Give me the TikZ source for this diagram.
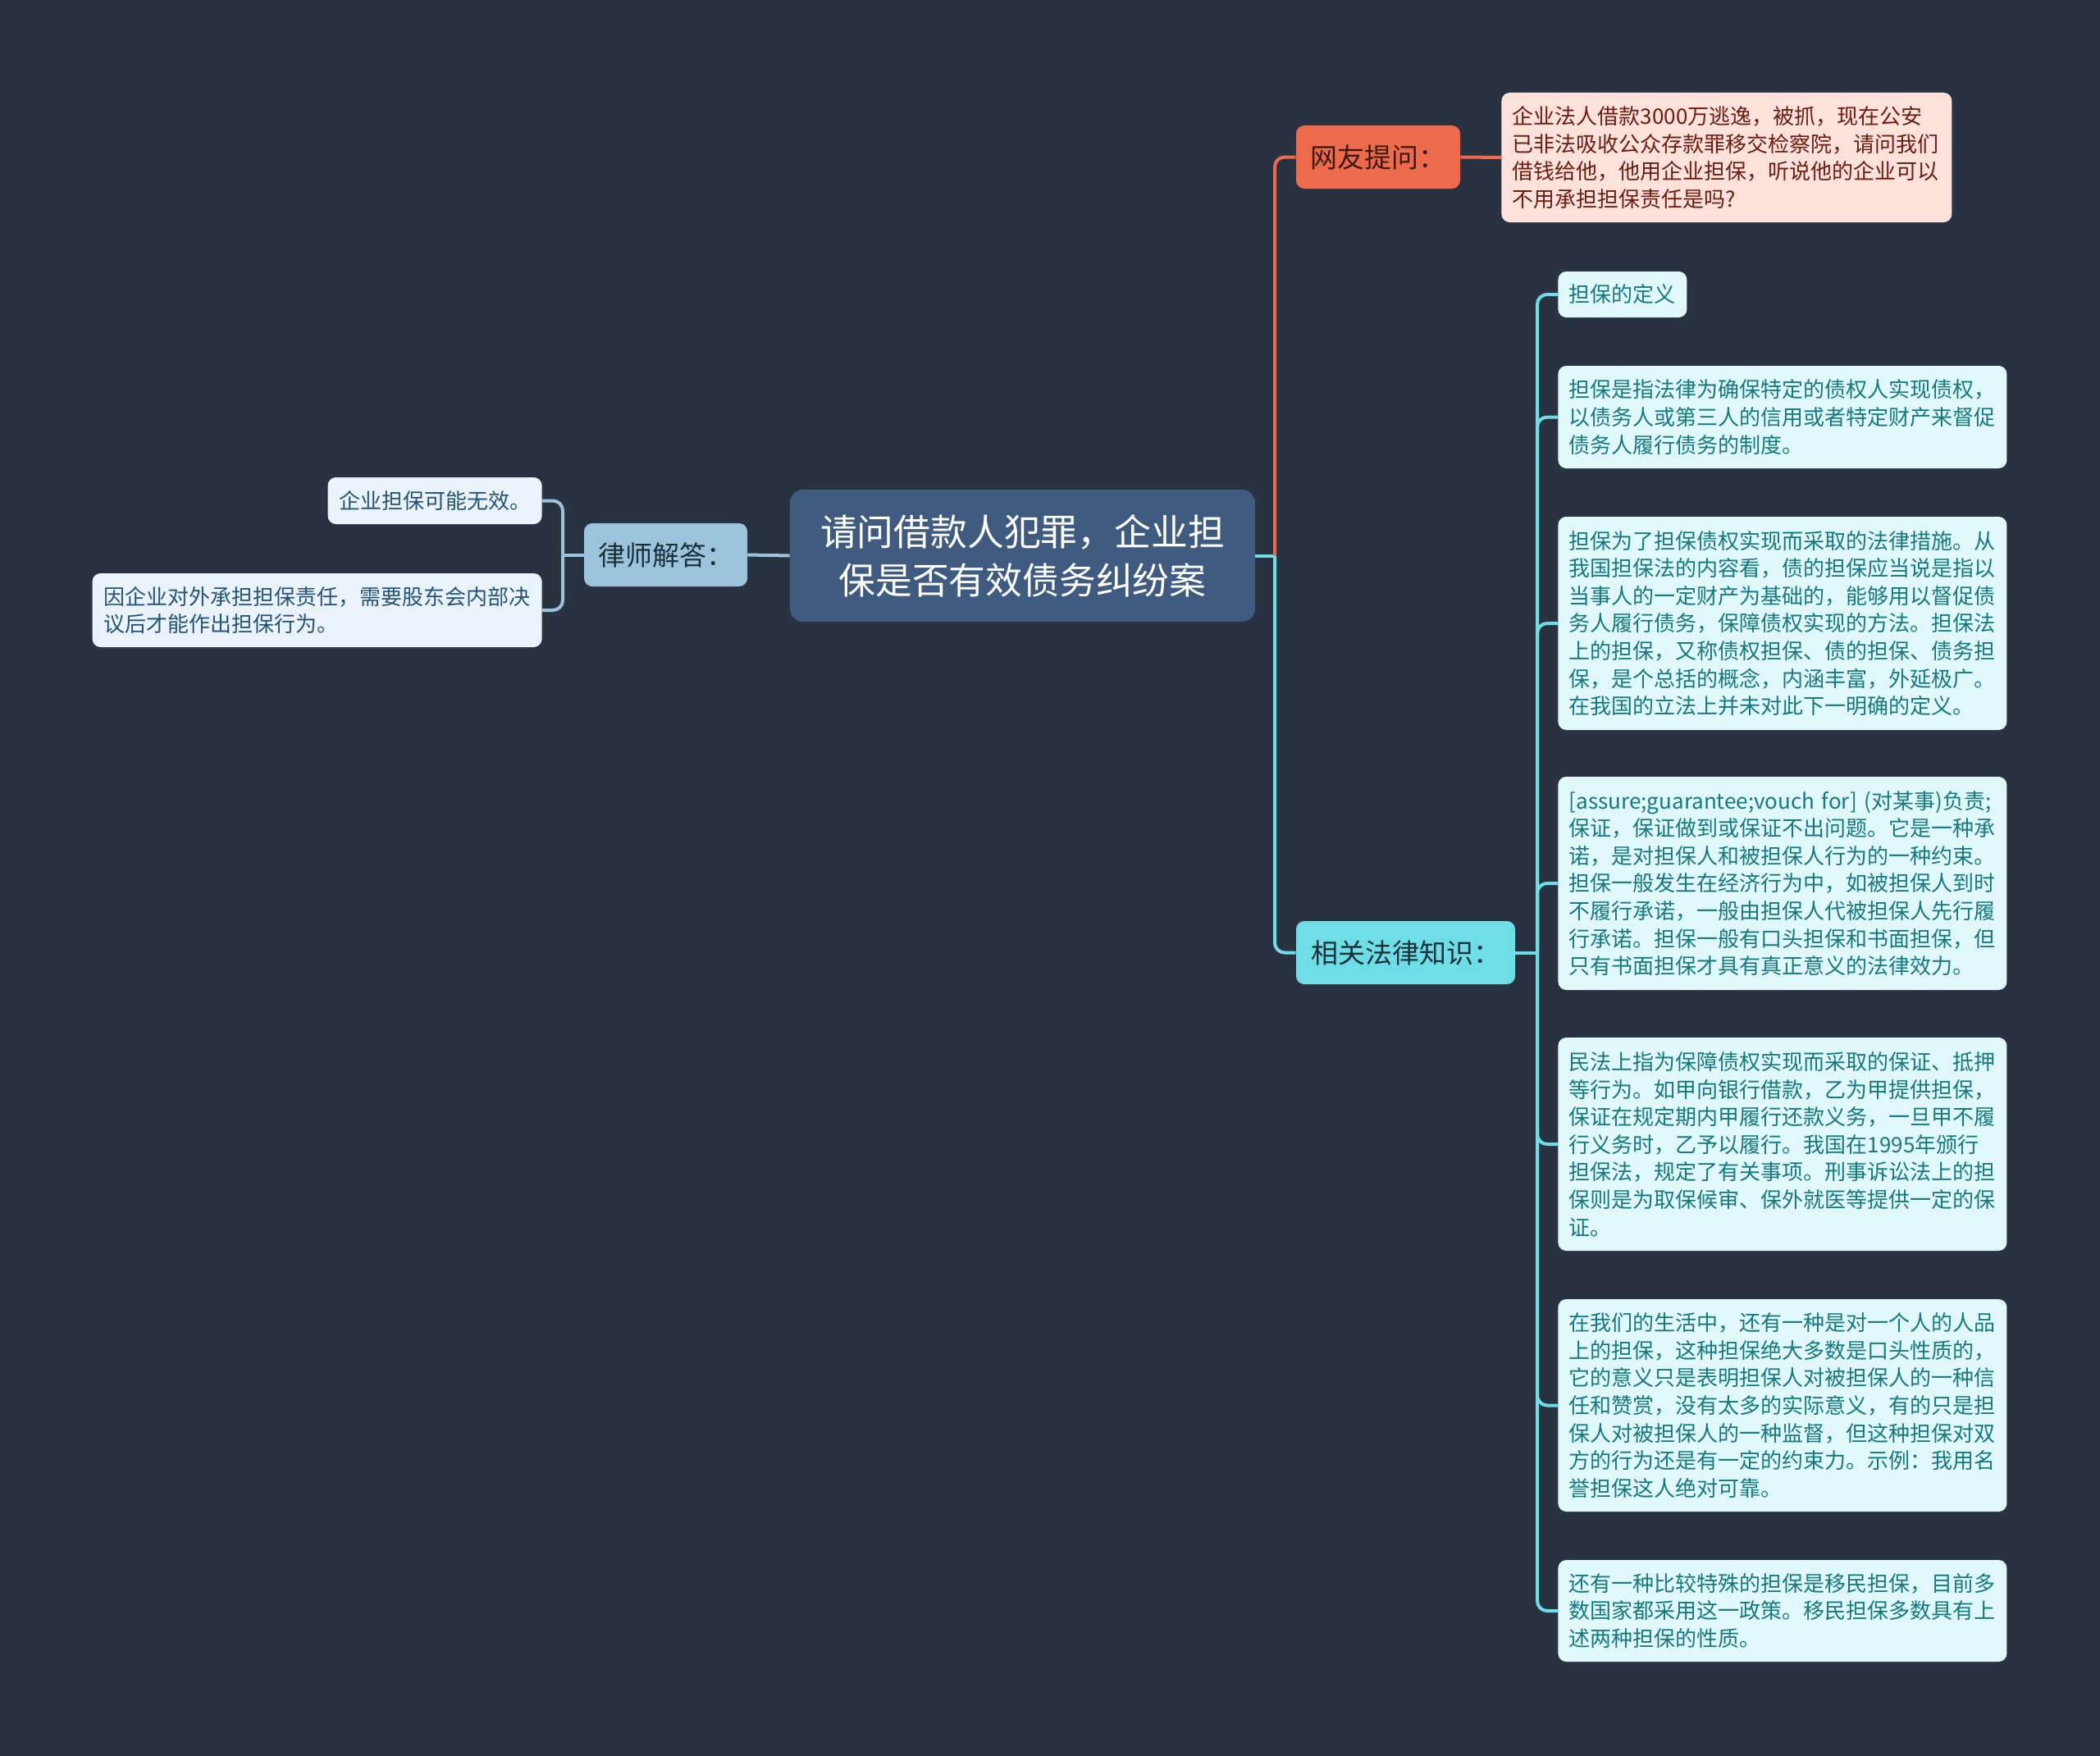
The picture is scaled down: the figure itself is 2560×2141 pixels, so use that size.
\documentclass[tikz,border=0pt]{standalone}
\usepackage{fontspec}
\newfontfamily\cjk{Noto Sans CJK SC}
\definecolor{bg}{RGB}{41,50,65}
\definecolor{rootfill}{RGB}{63,92,128}
\definecolor{lawyerfill}{RGB}{156,195,220}
\definecolor{lleaffill}{RGB}{233,243,249}
\definecolor{lleaftext}{RGB}{38,84,120}
\definecolor{askfill}{RGB}{238,106,77}
\definecolor{asktext}{RGB}{58,26,18}
\definecolor{qfill}{RGB}{253,226,220}
\definecolor{qtext}{RGB}{110,28,16}
\definecolor{lawfill}{RGB}{110,221,230}
\definecolor{lawtext}{RGB}{23,50,58}
\definecolor{kfill}{RGB}{224,248,249}
\definecolor{ktext}{RGB}{21,122,128}
\tikzset{
  boxbase/.style={rounded corners=5pt, inner ysep=0pt, align=left},
  smallfont/.style={font=\cjk\fontsize{13pt}{16.8pt}\selectfont},
  midfont/.style={font=\cjk\fontsize{16.5pt}{20pt}\selectfont},
  rootbox/.style={boxbase, fill=rootfill, text=white, align=center, rounded corners=8pt,
    font=\cjk\fontsize{22.4pt}{29.4pt}\selectfont, minimum width=283.5pt, minimum height=80.5pt},
  lawyerbox/.style={boxbase, midfont, fill=lawyerfill, text=lawtext, inner xsep=5pt, minimum height=38.5pt},
  askbox/.style={boxbase, midfont, fill=askfill, text=asktext, inner xsep=5pt, minimum height=38.5pt},
  lawbox/.style={boxbase, midfont, fill=lawfill, text=lawtext, inner xsep=5pt, minimum height=38.5pt},
  lleaf/.style={boxbase, smallfont, fill=lleaffill, text=lleaftext, inner xsep=6.75pt},
  qbox/.style={boxbase, smallfont, fill=qfill, text=qtext, inner xsep=6.75pt, text width=261pt},
  kleaf/.style={boxbase, smallfont, fill=kfill, text=ktext, inner xsep=6.75pt, anchor=west},
  kwide/.style={kleaf, text width=260pt},
  cyanline/.style={draw=lawfill, line width=2pt},
  orangeline/.style={draw=askfill, line width=2pt},
  blueline/.style={draw=lawyerfill, line width=2pt},
}
\begin{document}
\begin{tikzpicture}[x=0.5pt,y=-0.5pt]
\fill[bg] (0,0) rectangle (2560,2141);
\useasboundingbox (0,0) rectangle (2560,2141);

% root
\node[rootbox] (root) at (1246.5,677.5) {请问借款人犯罪，企业担\\保是否有效债务纠纷案};

% left side
\node[lawyerbox, minimum width=99.5pt] (lawyer) at (811.5,676.5) {律师解答：};
\node[lleaf, minimum width=129.5pt, minimum height=28.5pt, anchor=east] (l1) at (661,610.5) {企业担保可能无效。};
\node[lleaf, text width=260.5pt, minimum height=45pt, anchor=east] (l2) at (661,744) {因企业对外承担担保责任，需要股东会内部决\\议后才能作出担保行为。};

% top right
\node[askbox, minimum width=100pt] (ask) at (1680,191.5) {网友提问：};
\node[qbox, minimum height=79pt, anchor=west] (q) at (1830,192) {企业法人借款3000万逃逸，被抓，现在公安\\已非法吸收公众存款罪移交检察院，请问我们\\借钱给他，他用企业担保，听说他的企业可以\\不用承担担保责任是吗?};

% law knowledge
\node[lawbox, minimum width=133.5pt] (law) at (1713.5,1161.5) {相关法律知识：};

\node[kleaf, minimum width=76.5pt, minimum height=28pt] (k1) at (1899,359) {担保的定义};
\node[kwide, minimum height=62.5pt] (k2) at (1899,508.5) {担保是指法律为确保特定的债权人实现债权，\\以债务人或第三人的信用或者特定财产来督促\\债务人履行债务的制度。};
\node[kwide, minimum height=130pt] (k3) at (1899,760) {担保为了担保债权实现而采取的法律措施。从\\我国担保法的内容看，债的担保应当说是指以\\当事人的一定财产为基础的，能够用以督促债\\务人履行债务，保障债权实现的方法。担保法\\上的担保，又称债权担保、债的担保、债务担\\保，是个总括的概念，内涵丰富，外延极广。\\在我国的立法上并未对此下一明确的定义。};
\node[kwide, minimum height=130pt] (k4) at (1899,1077) {[assure;guarantee;vouch for] (对某事)负责;\\保证，保证做到或保证不出问题。它是一种承\\诺，是对担保人和被担保人行为的一种约束。\\担保一般发生在经济行为中，如被担保人到时\\不履行承诺，一般由担保人代被担保人先行履\\行承诺。担保一般有口头担保和书面担保，但\\只有书面担保才具有真正意义的法律效力。};
\node[kwide, minimum height=130pt] (k5) at (1899,1395) {民法上指为保障债权实现而采取的保证、抵押\\等行为。如甲向银行借款，乙为甲提供担保，\\保证在规定期内甲履行还款义务，一旦甲不履\\行义务时，乙予以履行。我国在1995年颁行\\担保法，规定了有关事项。刑事诉讼法上的担\\保则是为取保候审、保外就医等提供一定的保\\证。};
\node[kwide, minimum height=129.5pt] (k6) at (1899,1713.5) {在我们的生活中，还有一种是对一个人的人品\\上的担保，这种担保绝大多数是口头性质的，\\它的意义只是表明担保人对被担保人的一种信\\任和赞赏，没有太多的实际意义，有的只是担\\保人对被担保人的一种监督，但这种担保对双\\方的行为还是有一定的约束力。示例：我用名\\誉担保这人绝对可靠。};
\node[kwide, minimum height=62pt] (k7) at (1899,1964) {还有一种比较特殊的担保是移民担保，目前多\\数国家都采用这一政策。移民担保多数具有上\\述两种担保的性质。};

% connectors: root to right
\coordinate (rj) at (1554,677.5);
\draw[cyanline] (root.east) -- (rj);
\draw[orangeline, rounded corners=6pt] (rj) |- (ask.west);
\draw[cyanline, rounded corners=6pt] (rj) |- (law.west);
\draw[orangeline] (ask.east) -- (q.west);

% root to left
\coordinate (lj) at (686,676.5);
\draw[blueline] (root.west) -- (lawyer.east);
\draw[blueline] (lawyer.west) -- (lj);
\draw[blueline, rounded corners=6pt] (lj) |- (l1.east);
\draw[blueline, rounded corners=6pt] (lj) |- (l2.east);

% law to leaves
\coordinate (kj) at (1874,1161.5);
\draw[cyanline] (law.east) -- (kj);
\foreach \k in {k1,k2,k3,k4,k5,k6,k7}
  \draw[cyanline, rounded corners=6pt] (kj) |- (\k.west);
\end{tikzpicture}
\end{document}
